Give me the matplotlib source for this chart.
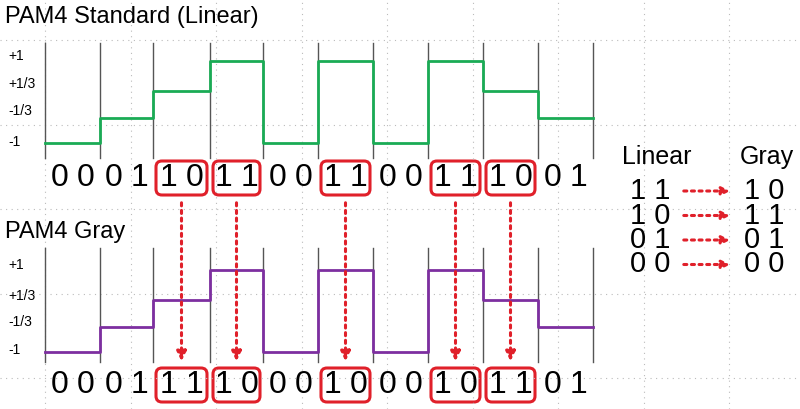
import numpy as np
import matplotlib.pyplot as plt
from matplotlib.patches import FancyBboxPatch

plt.rcParams['font.family'] = ['Liberation Sans', 'DejaVu Sans']

# bit streams and symbol levels
linear_bits = "00011011001100111001"
gray_bits = "00011110001000101101"
linear_map = {"00": -1, "01": -1/3, "10": 1/3, "11": 1}
gray_map = {"00": -1, "01": -1/3, "11": 1/3, "10": 1}
boxed = [2, 3, 5, 7, 8]  # symbol indexes that are highlighted
level_labels = ["+1", "+1/3", "-1/3", "-1"]
table_lin = ["1 1", "1 0", "0 1", "0 0"]
table_gray = ["1 0", "1 1", "0 1", "0 0"]

edges = [45, 100, 153, 210, 263, 318, 373, 428, 483, 538, 593]

fig = plt.figure(figsize=(8, 4.09), dpi=100)
ax = fig.add_axes([0, 0, 1, 1])
ax.set_xlim(0, 800)
ax.set_ylim(409, 0)
ax.axis("off")

# faint dotted background grid
for gx in np.arange(45, 800, 85.5):
    ax.axvline(gx, color="#bbbbbb", lw=0.8, ls=(0, (1, 4)))
for gy in np.arange(40, 409, 84.5):
    ax.axhline(gy, color="#bbbbbb", lw=0.8, ls=(0, (1, 4)))


def panel(bits, mapping, color, ytop, ybot, lvl_y, label_y, bit_y, title, title_y):
    ax.text(5, title_y, title, fontsize=17, va="center", ha="left")
    for e in edges:
        ax.plot([e, e], [ytop, ybot], color="#555555", lw=1)
    for lab, ly in zip(level_labels, label_y):
        ax.text(8, ly, lab, fontsize=10, va="center", ha="left")
    syms = [bits[i:i + 2] for i in range(0, len(bits), 2)]
    ys = [lvl_y[mapping[s]] for s in syms]
    ax.step(edges, ys + [ys[-1]], where="post", color=color, lw=2)
    for i, s in enumerate(syms):
        c = (edges[i] + edges[i + 1]) / 2
        ax.text(c - 13, bit_y, s[0], fontsize=23, ha="center", va="center")
        ax.text(c + 13, bit_y, s[1], fontsize=23, ha="center", va="center")
        if i in boxed:
            ax.add_patch(FancyBboxPatch((edges[i] + 3, bit_y - 17), edges[i + 1] - edges[i] - 6, 34,
                                        boxstyle="round,pad=0,rounding_size=6",
                                        fc="none", ec="#e0202a", lw=2.2))


panel(linear_bits, linear_map, "#1aab55", 43, 158,
      {-1: 143, -1/3: 118, 1/3: 91, 1: 61}, [56, 84, 111, 142], 178,
      "PAM4 Standard (Linear)", 17)
panel(gray_bits, gray_map, "#7d2fa0", 248, 362,
      {-1: 352, -1/3: 327, 1/3: 300, 1: 270}, [265, 296, 322, 350], 385,
      "PAM4 Gray", 232)

# arrows between rows
for i in boxed:
    c = (edges[i] + edges[i + 1]) / 2
    ax.annotate("", xy=(c, 364), xytext=(c, 200),
                arrowprops=dict(arrowstyle="-|>", color="#e0202a", lw=2.2,
                                ls=(0, (1, 1.5)), mutation_scale=14))

# mapping table
ax.text(657, 157, "Linear", fontsize=18, ha="center", va="center")
ax.text(767, 157, "Gray", fontsize=18, ha="center", va="center")
for k, (a, b) in enumerate(zip(table_lin, table_gray)):
    y = 191 + k * 24.5
    ax.text(650, y, a, fontsize=21, ha="center", va="center")
    ax.text(764, y, b, fontsize=21, ha="center", va="center")
    ax.annotate("", xy=(733, y), xytext=(681, y),
                arrowprops=dict(arrowstyle="-|>", color="#e0202a", lw=2.2,
                                ls=(0, (1, 1.5)), mutation_scale=12))

fig.savefig("out.png", dpi=100)
